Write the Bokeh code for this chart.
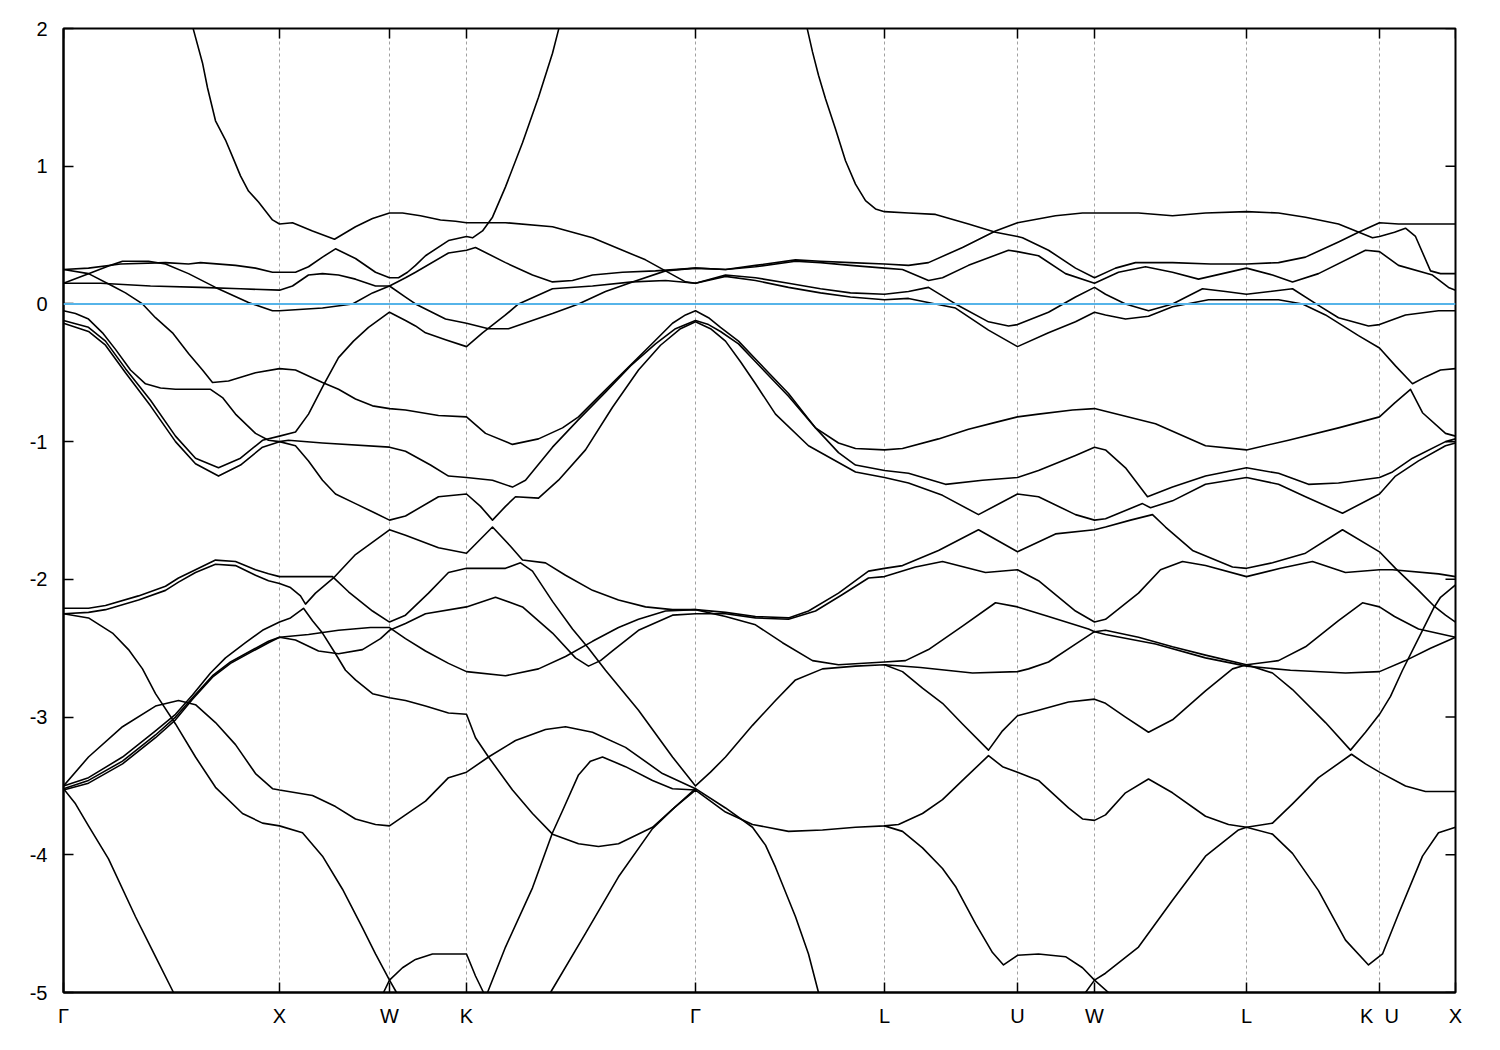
from bokeh.plotting import figure
from bokeh.models import Range1d, FixedTicker, Span, ColumnDataSource
from bokeh.embed import file_html
from bokeh.resources import INLINE

# High-symmetry points along the k-path (path coordinate, arbitrary units)
kpoint_pos = [63, 279, 389, 466, 695, 884, 1017, 1094, 1246, 1379, 1455]
kpoint_labels = ["Γ", "X", "W", "K", "Γ", "L", "U", "W", "L", "K\u00a0\u00a0U", "X"]
energy_ticks = [-5, -4, -3, -2, -1, 0, 1, 2]
fermi_level = 0.0

# Bands: (k, E) pairs
band_01 = [(189, 2.10), (193, 1.99), (202, 1.75), (207, 1.57), (215, 1.33), (225, 1.19), (232, 1.07), (240, 0.93), (248, 0.82), (258, 0.74), (272, 0.61), (279, 0.58), (292, 0.59), (312, 0.53), (334, 0.47), (355, 0.56), (372, 0.62), (389, 0.66), (402, 0.66), (420, 0.64), (440, 0.61), (455, 0.60), (466, 0.59), (505, 0.59), (552, 0.56), (592, 0.48), (622, 0.39), (645, 0.32), (665, 0.24), (685, 0.16), (695, 0.15), (725, 0.20), (755, 0.17), (788, 0.12), (820, 0.08), (850, 0.05), (884, 0.03), (908, 0.04), (935, 0.00), (955, -0.03), (988, -0.19), (1017, -0.31), (1048, -0.21), (1075, -0.13), (1094, -0.06), (1105, -0.08), (1125, -0.11), (1148, -0.09), (1172, -0.02), (1208, 0.03), (1246, 0.03), (1278, 0.03), (1302, 0.00), (1325, -0.08), (1358, -0.23), (1379, -0.32), (1395, -0.45), (1412, -0.58), (1425, -0.53), (1440, -0.48), (1455, -0.47)]
band_02 = [(63, 0.25), (88, 0.26), (120, 0.29), (165, 0.30), (188, 0.29), (200, 0.30), (235, 0.28), (255, 0.26), (272, 0.23), (279, 0.23), (295, 0.23), (308, 0.27), (322, 0.34), (335, 0.40), (355, 0.33), (375, 0.23), (389, 0.19), (398, 0.19), (407, 0.23), (415, 0.28), (425, 0.35), (448, 0.46), (466, 0.49), (472, 0.48), (482, 0.53), (492, 0.63), (505, 0.85), (522, 1.17), (538, 1.50), (552, 1.82), (558, 1.99), (561, 2.10)]
band_03 = [(63, 0.15), (100, 0.15), (150, 0.13), (200, 0.12), (240, 0.11), (279, 0.10), (292, 0.13), (300, 0.17), (308, 0.21), (322, 0.22), (338, 0.21), (355, 0.18), (375, 0.13), (389, 0.13), (405, 0.05), (415, 0.00), (445, -0.11), (466, -0.14), (488, -0.18), (508, -0.18), (552, -0.07), (578, 0.00), (605, 0.09), (632, 0.16), (665, 0.24), (695, 0.26), (725, 0.25), (755, 0.28), (795, 0.32), (820, 0.31), (850, 0.30), (884, 0.29), (908, 0.28), (928, 0.30), (962, 0.41), (995, 0.53), (1017, 0.59), (1055, 0.64), (1082, 0.66), (1094, 0.66), (1138, 0.66), (1172, 0.64), (1205, 0.66), (1246, 0.67), (1278, 0.66), (1305, 0.63), (1338, 0.58), (1372, 0.48), (1379, 0.49), (1394, 0.52), (1405, 0.55), (1415, 0.49), (1430, 0.24), (1440, 0.22), (1455, 0.22)]
band_04 = [(63, 0.15), (88, 0.22), (110, 0.28), (122, 0.31), (148, 0.31), (165, 0.29), (188, 0.22), (215, 0.12), (248, 0.01), (272, -0.05), (279, -0.05), (322, -0.03), (352, 0.00), (372, 0.08), (389, 0.13), (405, 0.19), (415, 0.23), (448, 0.37), (466, 0.39), (475, 0.41), (505, 0.30), (532, 0.21), (552, 0.16), (572, 0.17), (592, 0.21), (622, 0.23), (655, 0.24), (695, 0.26), (725, 0.25), (755, 0.27), (795, 0.31), (820, 0.30), (850, 0.28), (884, 0.26), (902, 0.25), (928, 0.17), (942, 0.19), (968, 0.28), (1008, 0.39), (1017, 0.38), (1038, 0.35), (1065, 0.22), (1094, 0.15), (1118, 0.23), (1145, 0.27), (1172, 0.23), (1198, 0.18), (1222, 0.22), (1246, 0.26), (1272, 0.21), (1292, 0.16), (1318, 0.22), (1365, 0.39), (1379, 0.38), (1398, 0.28), (1432, 0.21), (1448, 0.12), (1455, 0.10)]
band_05 = [(63, -0.12), (88, -0.17), (105, -0.27), (125, -0.47), (150, -0.70), (175, -0.96), (195, -1.12), (218, -1.19), (240, -1.12), (262, -0.99), (279, -0.96), (295, -0.93), (308, -0.80), (323, -0.59), (338, -0.39), (353, -0.27), (368, -0.17), (389, -0.06), (405, -0.12), (415, -0.16), (425, -0.21), (445, -0.26), (466, -0.31), (482, -0.21), (505, -0.08), (518, 0.00), (552, 0.11), (592, 0.13), (632, 0.16), (665, 0.17), (695, 0.15), (725, 0.21), (755, 0.19), (788, 0.15), (820, 0.11), (850, 0.08), (884, 0.07), (908, 0.09), (928, 0.12), (955, 0.00), (988, -0.13), (1008, -0.16), (1017, -0.15), (1048, -0.06), (1075, 0.05), (1094, 0.12), (1105, 0.07), (1125, 0.00), (1148, -0.05), (1172, 0.00), (1202, 0.11), (1225, 0.09), (1246, 0.07), (1292, 0.11), (1318, -0.01), (1338, -0.10), (1368, -0.16), (1379, -0.15), (1405, -0.08), (1438, -0.05), (1455, -0.05)]
band_06 = [(63, 0.25), (88, 0.22), (112, 0.13), (125, 0.08), (142, 0.00), (155, -0.10), (172, -0.21), (188, -0.36), (202, -0.48), (212, -0.57), (228, -0.56), (255, -0.50), (279, -0.47), (295, -0.48), (322, -0.57), (338, -0.62), (355, -0.69), (372, -0.74), (389, -0.76), (405, -0.77), (438, -0.81), (466, -0.82), (485, -0.94), (512, -1.02), (538, -0.98), (562, -0.90), (578, -0.82), (600, -0.66), (625, -0.48), (650, -0.30), (672, -0.14), (685, -0.08), (695, -0.05), (708, -0.10), (720, -0.17), (738, -0.27), (755, -0.40), (788, -0.65), (815, -0.90), (838, -1.01), (855, -1.05), (884, -1.06), (902, -1.05), (938, -0.98), (968, -0.91), (995, -0.86), (1017, -0.82), (1038, -0.80), (1072, -0.77), (1094, -0.76), (1105, -0.78), (1155, -0.87), (1205, -1.03), (1246, -1.06), (1288, -0.99), (1338, -0.90), (1379, -0.82), (1394, -0.72), (1410, -0.62), (1422, -0.79), (1445, -0.94), (1455, -0.96)]
band_07 = [(63, -0.05), (75, -0.07), (88, -0.11), (102, -0.21), (115, -0.33), (130, -0.48), (145, -0.58), (160, -0.61), (175, -0.62), (210, -0.62), (222, -0.68), (235, -0.80), (255, -0.94), (268, -0.99), (279, -1.00), (288, -0.99), (322, -1.01), (389, -1.04), (405, -1.07), (430, -1.17), (448, -1.25), (466, -1.26), (492, -1.28), (512, -1.33), (525, -1.28), (552, -1.04), (578, -0.84), (605, -0.64), (630, -0.45), (655, -0.29), (675, -0.18), (695, -0.12), (708, -0.15), (720, -0.20), (738, -0.29), (755, -0.42), (788, -0.67), (815, -0.90), (838, -1.08), (855, -1.17), (884, -1.21), (908, -1.23), (945, -1.31), (982, -1.28), (1017, -1.26), (1038, -1.21), (1075, -1.10), (1094, -1.04), (1105, -1.06), (1125, -1.19), (1147, -1.40), (1172, -1.33), (1205, -1.25), (1246, -1.19), (1278, -1.23), (1308, -1.31), (1338, -1.30), (1379, -1.26), (1392, -1.22), (1412, -1.12), (1445, -1.00), (1455, -0.98)]
band_08 = [(63, -0.14), (88, -0.20), (105, -0.30), (125, -0.50), (150, -0.74), (175, -1.00), (195, -1.16), (218, -1.25), (240, -1.17), (262, -1.04), (279, -1.00), (295, -1.03), (308, -1.14), (322, -1.28), (335, -1.38), (355, -1.45), (375, -1.52), (389, -1.57), (405, -1.54), (438, -1.40), (466, -1.38), (480, -1.47), (492, -1.57), (505, -1.47), (515, -1.40), (538, -1.41), (558, -1.28), (585, -1.06), (612, -0.75), (638, -0.48), (660, -0.30), (680, -0.18), (695, -0.13), (710, -0.18), (725, -0.27), (740, -0.42), (755, -0.58), (775, -0.80), (808, -1.03), (855, -1.22), (884, -1.26), (908, -1.30), (942, -1.39), (978, -1.53), (1017, -1.38), (1038, -1.40), (1075, -1.53), (1094, -1.57), (1105, -1.56), (1125, -1.50), (1142, -1.45), (1150, -1.48), (1172, -1.43), (1205, -1.31), (1246, -1.26), (1278, -1.31), (1305, -1.40), (1342, -1.52), (1379, -1.38), (1395, -1.25), (1418, -1.14), (1445, -1.03), (1455, -1.01)]
band_09 = [(63, -2.21), (88, -2.21), (105, -2.19), (138, -2.12), (165, -2.05), (178, -1.99), (195, -1.93), (215, -1.86), (235, -1.87), (255, -1.93), (268, -1.96), (279, -1.98), (300, -1.98), (332, -1.98), (348, -2.09), (372, -2.23), (389, -2.31), (405, -2.26), (428, -2.10), (448, -1.95), (466, -1.92), (505, -1.92), (520, -1.88), (532, -1.94), (552, -2.16), (572, -2.36), (588, -2.50), (605, -2.66), (638, -2.95), (672, -3.29), (695, -3.50), (710, -3.40), (725, -3.29), (752, -3.06), (775, -2.88), (795, -2.73), (822, -2.65), (855, -2.63), (884, -2.62), (902, -2.67), (922, -2.79), (942, -2.90), (962, -3.05), (988, -3.24), (1002, -3.10), (1017, -2.99), (1038, -2.95), (1068, -2.89), (1094, -2.87), (1105, -2.90), (1125, -3.00), (1148, -3.11), (1172, -3.02), (1205, -2.81), (1232, -2.65), (1246, -2.62), (1272, -2.68), (1292, -2.80), (1325, -3.04), (1350, -3.24), (1365, -3.11), (1379, -2.98), (1390, -2.85), (1402, -2.66), (1422, -2.37), (1433, -2.21), (1440, -2.13), (1455, -2.04)]
band_10 = [(63, -2.25), (88, -2.24), (105, -2.22), (138, -2.15), (165, -2.08), (178, -2.02), (195, -1.95), (215, -1.89), (235, -1.90), (255, -1.97), (268, -2.01), (279, -2.03), (290, -2.06), (300, -2.12), (305, -2.18), (315, -2.10), (333, -1.99), (355, -1.82), (389, -1.64), (405, -1.68), (438, -1.77), (466, -1.81), (492, -1.62), (510, -1.76), (522, -1.86), (545, -1.88), (565, -1.97), (592, -2.08), (618, -2.15), (645, -2.20), (672, -2.22), (695, -2.22), (725, -2.24), (755, -2.27), (788, -2.28), (808, -2.23), (838, -2.10), (868, -1.94), (884, -1.92), (902, -1.90), (938, -1.79), (978, -1.64), (1017, -1.80), (1055, -1.67), (1094, -1.64), (1105, -1.62), (1130, -1.57), (1152, -1.53), (1165, -1.62), (1192, -1.79), (1232, -1.91), (1246, -1.92), (1272, -1.88), (1305, -1.81), (1342, -1.64), (1379, -1.80), (1395, -1.92), (1418, -2.08), (1433, -2.19), (1445, -2.26), (1455, -2.31)]
band_11 = [(63, -3.50), (88, -3.44), (122, -3.29), (155, -3.10), (175, -2.98), (192, -2.84), (210, -2.68), (225, -2.57), (245, -2.46), (262, -2.37), (279, -2.31), (290, -2.28), (303, -2.21), (312, -2.30), (322, -2.39), (335, -2.54), (345, -2.66), (355, -2.73), (372, -2.83), (389, -2.86), (405, -2.88), (425, -2.92), (448, -2.97), (466, -2.98), (475, -3.15), (488, -3.29), (512, -3.53), (532, -3.70), (552, -3.85), (578, -3.92), (598, -3.94), (618, -3.92), (652, -3.80), (675, -3.65), (695, -3.53), (725, -3.69), (752, -3.78), (788, -3.83), (822, -3.82), (855, -3.80), (884, -3.79), (898, -3.78), (922, -3.70), (942, -3.60), (962, -3.46), (988, -3.28), (1002, -3.36), (1017, -3.40), (1038, -3.46), (1068, -3.66), (1082, -3.74), (1094, -3.75), (1105, -3.71), (1125, -3.55), (1148, -3.45), (1172, -3.55), (1205, -3.72), (1228, -3.78), (1246, -3.80), (1272, -3.77), (1292, -3.63), (1318, -3.44), (1351, -3.27), (1365, -3.34), (1379, -3.40), (1405, -3.50), (1425, -3.54), (1455, -3.54)]
band_12 = [(63, -3.52), (88, -3.46), (122, -3.32), (155, -3.13), (175, -3.00), (192, -2.86), (212, -2.70), (230, -2.60), (250, -2.52), (268, -2.45), (279, -2.42), (308, -2.40), (338, -2.37), (370, -2.35), (389, -2.35), (405, -2.43), (425, -2.52), (448, -2.61), (466, -2.67), (505, -2.70), (538, -2.65), (565, -2.56), (592, -2.45), (618, -2.35), (638, -2.29), (665, -2.23), (695, -2.22), (725, -2.27), (755, -2.33), (782, -2.46), (812, -2.59), (838, -2.62), (884, -2.60), (905, -2.59), (928, -2.51), (962, -2.34), (995, -2.17), (1017, -2.20), (1048, -2.27), (1088, -2.36), (1094, -2.38), (1105, -2.37), (1138, -2.42), (1172, -2.49), (1205, -2.55), (1246, -2.62), (1278, -2.59), (1305, -2.49), (1338, -2.30), (1362, -2.17), (1379, -2.20), (1394, -2.27), (1418, -2.36), (1455, -2.42)]
band_13 = [(63, -3.53), (88, -3.48), (122, -3.34), (155, -3.15), (175, -3.02), (192, -2.87), (212, -2.71), (230, -2.61), (250, -2.53), (268, -2.46), (279, -2.42), (295, -2.44), (318, -2.52), (338, -2.54), (362, -2.51), (380, -2.43), (389, -2.37), (405, -2.32), (425, -2.25), (466, -2.20), (495, -2.13), (522, -2.20), (552, -2.39), (575, -2.57), (588, -2.63), (600, -2.59), (612, -2.52), (638, -2.37), (672, -2.26), (695, -2.25), (725, -2.25), (755, -2.28), (788, -2.29), (815, -2.23), (842, -2.11), (868, -1.99), (884, -1.98), (915, -1.91), (942, -1.87), (985, -1.95), (1017, -1.93), (1038, -2.01), (1075, -2.23), (1094, -2.31), (1105, -2.29), (1138, -2.10), (1160, -1.93), (1182, -1.87), (1205, -1.90), (1246, -1.98), (1280, -1.92), (1312, -1.87), (1345, -1.95), (1379, -1.93), (1392, -1.93), (1438, -1.96), (1455, -1.98)]
band_14 = [(63, -3.50), (88, -3.29), (122, -3.07), (155, -2.92), (178, -2.88), (195, -2.91), (215, -3.04), (235, -3.20), (255, -3.41), (272, -3.52), (279, -3.53), (312, -3.57), (335, -3.65), (355, -3.74), (375, -3.78), (389, -3.79), (405, -3.71), (425, -3.61), (448, -3.44), (466, -3.40), (488, -3.29), (515, -3.17), (545, -3.09), (565, -3.07), (592, -3.11), (625, -3.22), (662, -3.41), (695, -3.52), (725, -3.66), (752, -3.80), (765, -3.93), (775, -4.09), (795, -4.45), (808, -4.72), (818, -5.00), (820, -5.05)]
band_15 = [(63, -2.25), (88, -2.28), (112, -2.39), (128, -2.51), (142, -2.65), (155, -2.83), (175, -3.05), (195, -3.29), (215, -3.51), (242, -3.70), (262, -3.77), (279, -3.79), (302, -3.84), (322, -4.01), (342, -4.25), (362, -4.53), (375, -4.72), (389, -4.91), (396, -5.00), (398, -5.05)]
band_16 = [(63, -3.52), (75, -3.63), (88, -3.79), (108, -4.03), (135, -4.45), (155, -4.74), (173, -5.00), (175, -5.05)]
band_17 = [(381, -5.05), (383, -5.00), (389, -4.91), (402, -4.82), (415, -4.76), (432, -4.72), (466, -4.72), (475, -4.88), (483, -5.00), (485, -5.05)]
band_18 = [(485, -5.05), (487, -5.00), (505, -4.67), (532, -4.24), (552, -3.84), (562, -3.68), (578, -3.42), (590, -3.32), (602, -3.29), (625, -3.36), (652, -3.46), (672, -3.52), (695, -3.53)]
band_19 = [(548, -5.05), (550, -5.00), (585, -4.57), (618, -4.16), (652, -3.81), (672, -3.67), (695, -3.52)]
band_20 = [(884, -3.79), (902, -3.83), (922, -3.95), (942, -4.10), (955, -4.23), (975, -4.50), (992, -4.71), (1003, -4.80), (1017, -4.73), (1038, -4.72), (1065, -4.74), (1082, -4.82), (1094, -4.91), (1108, -5.00), (1110, -5.05)]
band_21 = [(1083, -5.05), (1085, -5.00), (1094, -4.91), (1105, -4.86), (1138, -4.67), (1172, -4.33), (1205, -4.01), (1238, -3.82), (1246, -3.80), (1272, -3.85), (1292, -3.99), (1318, -4.26), (1345, -4.62), (1368, -4.80), (1382, -4.72), (1398, -4.43), (1422, -4.01), (1438, -3.84), (1455, -3.80)]
band_22 = [(884, -2.62), (920, -2.64), (972, -2.68), (1017, -2.67), (1028, -2.65), (1048, -2.60), (1075, -2.47), (1094, -2.38), (1105, -2.40), (1155, -2.47), (1205, -2.57), (1246, -2.63), (1290, -2.66), (1345, -2.68), (1379, -2.67), (1405, -2.59), (1430, -2.50), (1455, -2.42)]
band_23 = [(805, 2.10), (807, 1.99), (812, 1.83), (818, 1.66), (825, 1.49), (835, 1.27), (845, 1.04), (855, 0.87), (865, 0.75), (875, 0.69), (884, 0.67), (908, 0.66), (935, 0.65), (968, 0.58), (995, 0.52), (1017, 0.49), (1022, 0.48), (1048, 0.39), (1075, 0.26), (1094, 0.19), (1115, 0.26), (1135, 0.30), (1172, 0.30), (1210, 0.29), (1246, 0.29), (1278, 0.30), (1305, 0.34), (1338, 0.45), (1358, 0.52), (1379, 0.59), (1398, 0.58), (1420, 0.58), (1455, 0.58)]

bands = [band_01, band_02, band_03, band_04, band_05, band_06, band_07, band_08,
         band_09, band_10, band_11, band_12, band_13, band_14, band_15, band_16,
         band_17, band_18, band_19, band_20, band_21, band_22, band_23]

FONT = "Liberation Sans"
FSIZE = "20px"

p = figure(width=1478, height=1038,
           x_range=Range1d(kpoint_pos[0], kpoint_pos[-1]),
           y_range=Range1d(energy_ticks[0], energy_ticks[-1]),
           output_backend="svg", toolbar_location=None,
           min_border_left=63, min_border_right=23,
           min_border_top=28, min_border_bottom=46)
p.background_fill_color = "white"
p.border_fill_color = "white"
p.outline_line_color = "black"
p.outline_line_width = 2

# bottom axis
xa = p.xaxis[0]
xa.ticker = FixedTicker(ticks=kpoint_pos)
xa.major_label_overrides = {k: lab for k, lab in zip(kpoint_pos, kpoint_labels)}
# left axis
ya = p.yaxis[0]
ya.ticker = FixedTicker(ticks=energy_ticks)
ya.major_label_overrides = {v: str(v) for v in energy_ticks}

for ax in (xa, ya):
    ax.major_tick_in = 10
    ax.major_tick_out = 0
    ax.minor_tick_line_color = None
    ax.axis_line_color = "black"
    ax.axis_line_width = 2
    ax.major_tick_line_width = 1.5
    ax.major_label_text_font = FONT
    ax.major_label_text_font_size = FSIZE
    ax.major_label_text_color = "black"
xa.major_label_standoff = 12
ya.major_label_standoff = 16

# mirrored tick marks on the top and right frame edges (rays of 10 screen px)
x_end = kpoint_pos[-1]
y_top = energy_ticks[-1]
p.ray(x=kpoint_pos, y=[y_top] * len(kpoint_pos), length=10, length_units="screen",
      angle=-90, angle_units="deg", line_color="black", line_width=1.5)
p.ray(x=[x_end] * len(energy_ticks), y=energy_ticks, length=10, length_units="screen",
      angle=180, angle_units="deg", line_color="black", line_width=1.5)

# grid: dashed verticals at internal high-symmetry points
p.xgrid.ticker = FixedTicker(ticks=kpoint_pos[1:-1])
p.xgrid.grid_line_color = "#a0a0a0"
p.xgrid.grid_line_dash = "3 3"
p.xgrid.grid_line_width = 1
p.ygrid.visible = False

src = ColumnDataSource(dict(
    xs=[[pt[0] for pt in b] for b in bands],
    ys=[[pt[1] for pt in b] for b in bands],
))
p.multi_line("xs", "ys", source=src, line_color="black", line_width=1.6,
             line_join="round", line_cap="round")

p.add_layout(Span(location=fermi_level, dimension="width",
                  line_color="#56b4e9", line_width=2))

open("out.html", "w").write(file_html(p, INLINE))
